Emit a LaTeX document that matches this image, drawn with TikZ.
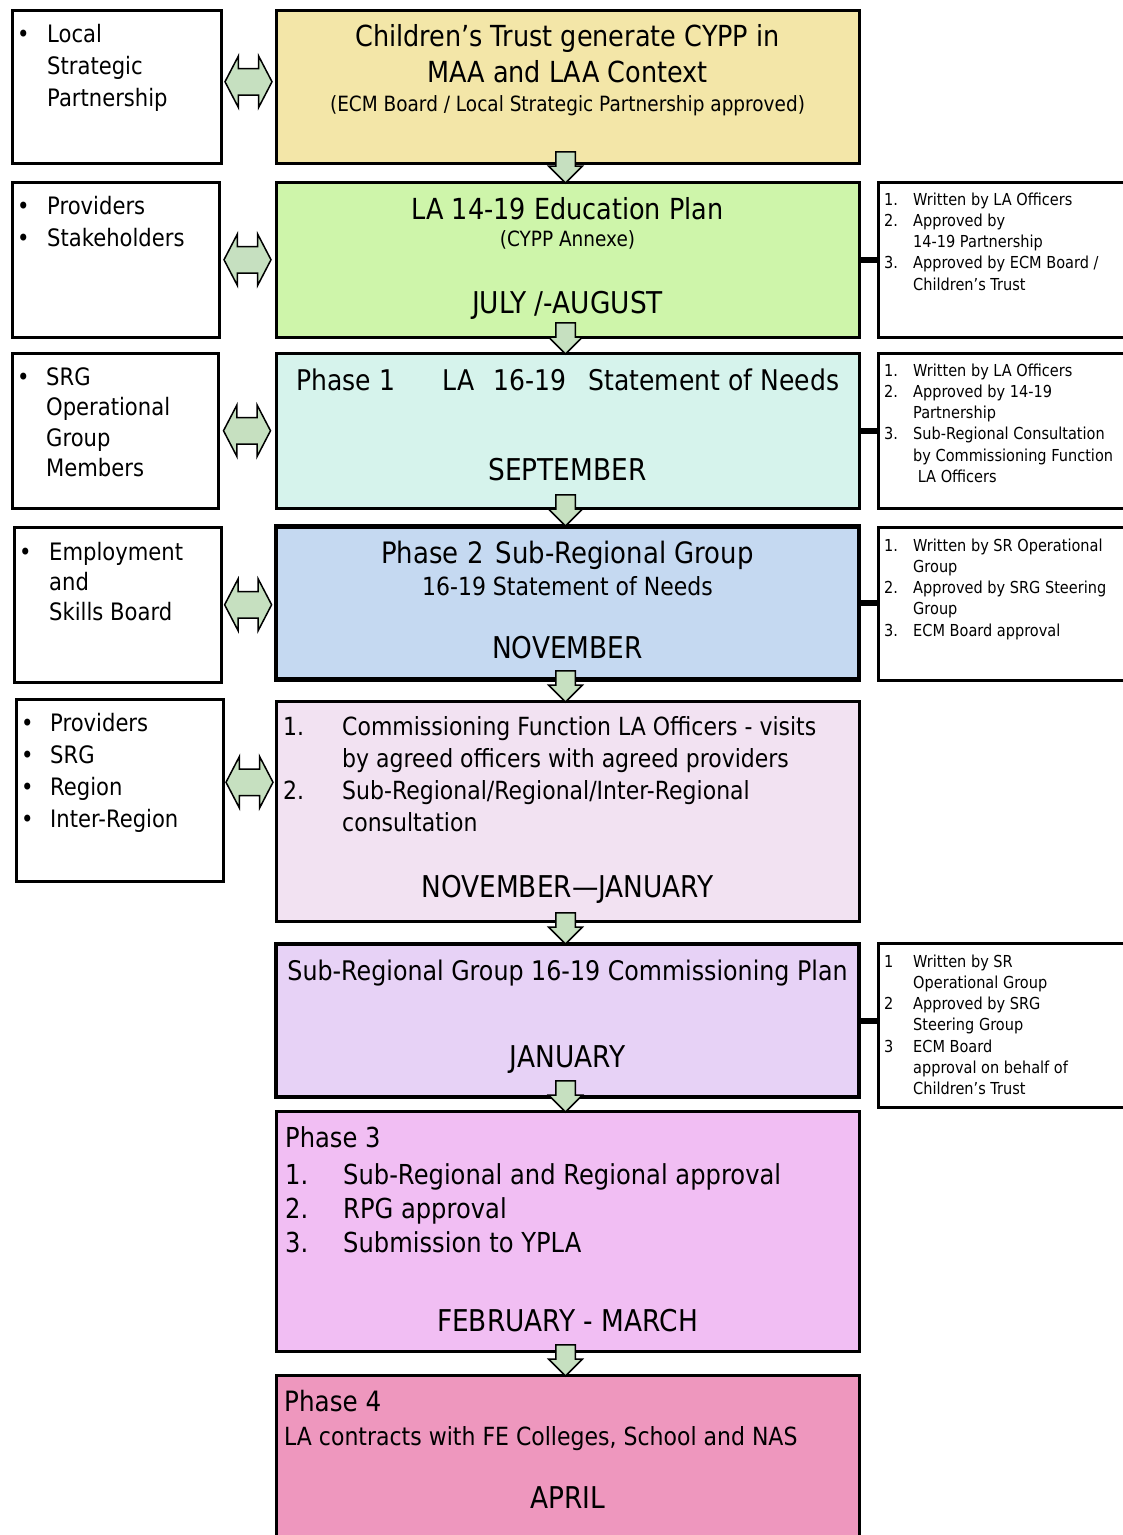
\documentclass[tikz,border=0pt]{standalone}
\usepackage{fontspec}
\setmainfont{DejaVu Sans}[FakeStretch=0.88]
\usetikzlibrary{shapes.arrows}
\usetikzlibrary{calc}
\definecolor{trustyellow}{RGB}{243,230,168}
\definecolor{plangreen}{RGB}{206,245,170}
\definecolor{needscyan}{RGB}{214,243,236}
\definecolor{srgblue}{RGB}{197,217,241}
\definecolor{visitpink}{RGB}{242,226,242}
\definecolor{commlilac}{RGB}{231,210,246}
\definecolor{approvepink}{RGB}{241,190,243}
\definecolor{contractpink}{RGB}{238,151,190}
\definecolor{arrowgreen}{RGB}{198,224,192}
\tikzset{
mainbox/.style={ % Sets the properties for each stage box
draw, line width=3pt, minimum width=583pt, anchor=north, inner sep=0pt},
sidebox/.style={draw, line width=2.5pt, anchor=north west, inner sep=0pt},
notebox/.style={draw, line width=2.5pt, anchor=north west, inner sep=0pt,
minimum width=262pt},
downarrow/.style={ % Block arrow from one stage to the next
single arrow, draw, line width=1.5pt, fill=arrowgreen, inner sep=9pt,
minimum height=31pt, single arrow head extend=7pt,
shape border rotate=270, anchor=tip},
twoway/.style={double arrow, draw, line width=1.5pt, fill=arrowgreen,
inner sep=12.5pt, minimum height=47pt,
double arrow head extend=12.5pt, double arrow tip angle=125},
link/.style={line width=6pt},
bigtxt/.style={font=\fontsize{29}{36}\selectfont, inner sep=0pt, anchor=base},
monthtxt/.style={font=\fontsize{30}{36}\selectfont, inner sep=0pt, anchor=base},
midtxt/.style={font=\fontsize{25}{30}\selectfont, inner sep=0pt, anchor=base},
smalltxt/.style={font=\fontsize{21}{24}\selectfont, inner sep=0pt, anchor=base},
sidetxt/.style={font=\fontsize{24}{32}\selectfont, inner sep=0pt, anchor=base west},
notetxt/.style={font=\fontsize{16.5}{21.3}\selectfont, inner sep=0pt, anchor=base west}}

\begin{document}
\begin{tikzpicture}[x=1pt, y=-1pt]
\useasboundingbox (0,0) rectangle (1123,1535);
% stages
\node[mainbox, fill=trustyellow, minimum height=153pt] (trust) at (567.5,9) {};
\node[mainbox, fill=plangreen, minimum height=155pt] (eduplan) at (567.5,181) {};
\node[mainbox, fill=needscyan, minimum height=155pt] (phaseone) at (567.5,352) {};
\node[mainbox, fill=srgblue, line width=4.5pt, minimum height=153pt] (phasetwo) at (567.5,524) {};
\node[mainbox, fill=visitpink, minimum height=220pt] (visits) at (567.5,700) {};
\node[mainbox, fill=commlilac, line width=4pt, minimum height=153pt] (commplan) at (567.5,942) {};
\node[mainbox, fill=approvepink, minimum height=240pt] (phasethree) at (567.5,1110) {};
\node[mainbox, fill=contractpink, minimum height=175pt] (phasefour) at (567.5,1374) {};

\node[bigtxt] (trust-a) at (567.5,46) {Children’s Trust generate CYPP in};
\node[bigtxt] (trust-b) at (567.5,82) {MAA and LAA Context};
\node[smalltxt] (trust-c) at (567.5,111) {(ECM Board / Local Strategic Partnership approved)};
\node[bigtxt] (eduplan-a) at (567.5,219) {LA 14-19 Education Plan};
\node[smalltxt] (eduplan-b) at (567.5,246) {(CYPP Annexe)};
\node[monthtxt] (eduplan-c) at (567.5,313) {JULY /-AUGUST};
\node[bigtxt, font=\fontsize{28.5}{36}\selectfont, anchor=base west] (phaseone-a) at (296,390)
  {Phase 1\hspace{48pt}LA\hspace{19pt}16-19\hspace{22pt}Statement of Needs};
\node[monthtxt] (phaseone-b) at (567.5,480) {SEPTEMBER};
\node[bigtxt, font=\fontsize{29.5}{36}\selectfont] (phasetwo-a) at (567.5,563) {Phase 2\hspace{12pt}Sub-Regional Group};
\node[midtxt] (phasetwo-b) at (567.5,595) {16-19 Statement of Needs};
\node[monthtxt] (phasetwo-c) at (567.5,658) {NOVEMBER};
\node[font=\fontsize{25}{32}\selectfont, inner sep=0pt, anchor=base west] (visits-a) at (283,735)
  {\begin{tabular}[t]{@{}p{59pt}@{}l@{}}
   1. & Commissioning Function LA Officers - visits\\
      & by agreed officers with agreed providers\\
   2. & Sub-Regional/Regional/Inter-Regional\\
      & consultation
   \end{tabular}};
\node[monthtxt] (visits-b) at (567.5,897) {NOVEMBER—JANUARY};
\node[bigtxt, font=\fontsize{27}{36}\selectfont] (commplan-a) at (567.5,980) {Sub-Regional Group 16-19 Commissioning Plan};
\node[monthtxt] (commplan-b) at (567.5,1067) {JANUARY};
\node[font=\fontsize{27.5}{34}\selectfont, inner sep=0pt, anchor=base west] (phasethree-a) at (285,1147)
  {\begin{tabular}[t]{@{}p{58pt}@{}l@{}}
   \multicolumn{2}{@{}l}{Phase 3}\\[3pt]
   1. & Sub-Regional and Regional approval\\
   2. & RPG approval\\
   3. & Submission to YPLA
   \end{tabular}};
\node[monthtxt] (phasethree-b) at (567.5,1331) {FEBRUARY - MARCH};
\node[bigtxt, font=\fontsize{28}{36}\selectfont, anchor=base west] (phasefour-a) at (284,1411) {Phase 4};
\node[font=\fontsize{25}{32}\selectfont, inner sep=0pt, anchor=base west] (phasefour-b) at (284,1445)
  {LA contracts with FE Colleges, School and NAS};
\node[monthtxt] (phasefour-c) at (567.5,1508) {APRIL};

% partners on the left
\node[sidebox, minimum width=209pt, minimum height=153pt] (lsp) at (11,9) {};
\node[sidebox, minimum width=207pt, minimum height=155pt] (prov) at (11,181) {};
\node[sidebox, minimum width=206pt, minimum height=155pt] (srgops) at (11,352) {};
\node[sidebox, minimum width=207pt, minimum height=155pt] (esb) at (13,526) {};
\node[sidebox, minimum width=207pt, minimum height=182pt] (regions) at (15,698) {};

\node[sidetxt] (lsp-txt) at (17,42)
  {\begin{tabular}[t]{@{}p{30pt}@{}l@{}} \textbullet & Local\\ & Strategic\\ & Partnership\end{tabular}};
\node[sidetxt] (prov-txt) at (17,214)
  {\begin{tabular}[t]{@{}p{30pt}@{}l@{}} \textbullet & Providers\\ \textbullet & Stakeholders\end{tabular}};
\node[sidetxt, font=\fontsize{24}{30.5}\selectfont] (srgops-txt) at (17,385)
  {\begin{tabular}[t]{@{}p{29pt}@{}l@{}} \textbullet & SRG\\ & Operational\\ & Group\\ & Members\end{tabular}};
\node[sidetxt, font=\fontsize{24}{30}\selectfont] (esb-txt) at (19,560)
  {\begin{tabular}[t]{@{}p{30pt}@{}l@{}} \textbullet & Employment\\ & and\\ & Skills Board\end{tabular}};
\node[sidetxt] (regions-txt) at (21,731)
  {\begin{tabular}[t]{@{}p{29pt}@{}l@{}} \textbullet & Providers\\ \textbullet & SRG\\ \textbullet & Region\\ \textbullet & Inter-Region\end{tabular}};

% notes on the right
\node[notebox, minimum height=155pt] (planotes) at (877,181) {};
\node[notebox, minimum height=155pt] (needsnotes) at (877,352) {};
\node[notebox, minimum height=153pt] (srgnotes) at (877,526) {};
\node[notebox, minimum height=164pt] (commnotes) at (877,942) {};

\node[notetxt] (planotes-txt) at (884,205)
  {\begin{tabular}[t]{@{}p{29pt}@{}l@{}}
   1. & Written by LA Officers\\ 2. & Approved by\\ & 14-19 Partnership\\
   3. & Approved by ECM Board /\\ & Children’s Trust\end{tabular}};
\node[notetxt] (needsnotes-txt) at (884,376)
  {\begin{tabular}[t]{@{}p{29pt}@{}l@{}}
   1. & Written by LA Officers\\ 2. & Approved by 14-19\\ & Partnership\\
   3. & Sub-Regional Consultation\\ & by Commissioning Function\\ & \ LA Officers\end{tabular}};
\node[notetxt] (srgnotes-txt) at (884,551)
  {\begin{tabular}[t]{@{}p{29pt}@{}l@{}}
   1. & Written by SR Operational\\ & Group\\ 2. & Approved by SRG Steering\\ & Group\\
   3. & ECM Board approval\end{tabular}};
\node[notetxt] (commnotes-txt) at (884,967)
  {\begin{tabular}[t]{@{}p{29pt}@{}l@{}}
   1 & Written by SR\\ & Operational Group\\ 2 & Approved by SRG\\ & Steering Group\\
   3 & ECM Board\\ & approval on behalf of\\ & Children’s Trust\end{tabular}};

% links to the notes
\draw[link] (eduplan.east) -- (eduplan.east -| planotes.west);
\draw[link] (phaseone.east) -- (phaseone.east -| needsnotes.west);
\draw[link] (phasetwo.east) -- (phasetwo.east -| srgnotes.west);
\draw[link] (commplan.east) -- (commplan.east -| commnotes.west);

% two-way arrows between partners and stages
\node[twoway] (lsp-arr) at ($(lsp.east)!0.5!(trust.west |- lsp.east) + (0,-5)$) {};
\node[twoway] (prov-arr) at ($(prov.east)!0.5!(eduplan.west |- prov.east)$) {};
\node[twoway] (srgops-arr) at ($(srgops.east)!0.5!(phaseone.west |- srgops.east)$) {};
\node[twoway] (esb-arr) at ($(esb.east)!0.5!(phasetwo.west |- esb.east)$) {};
\node[twoway] (regions-arr) at ($(regions.east)!0.5!(visits.west |- regions.east) + (0,-8)$) {};

% flow from stage to stage
\foreach \a/\b in {trust/eduplan, eduplan/phaseone, phaseone/phasetwo, phasetwo/visits,
  visits/commplan, commplan/phasethree, phasethree/phasefour}
  \node[downarrow] (\a-down) at ([xshift=-2pt, yshift=-3pt]\b.north) {};
\end{tikzpicture}
\end{document}
